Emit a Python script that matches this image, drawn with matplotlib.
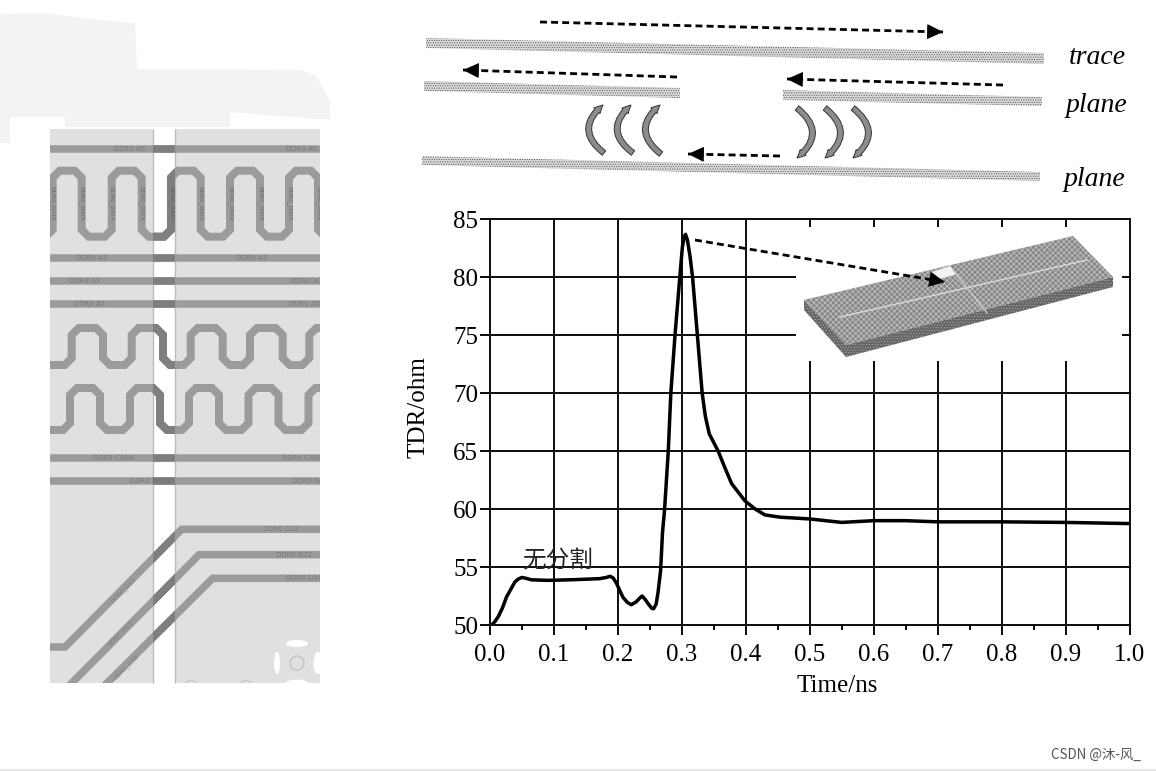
import matplotlib
matplotlib.use("Agg")
import matplotlib.pyplot as plt
from matplotlib.patches import Polygon, Rectangle, FancyArrowPatch, Circle, Ellipse

W, H = 1156, 771
SERIF = "Liberation Serif"
CJK = ["Noto Sans CJK SC", "DejaVu Sans"]
PX = 0.72  # points per pixel at dpi 100
plt.rcParams["hatch.linewidth"] = 0.45

# ------------------- chart data -------------------
time_ns = [0.0, 0.004, 0.008, 0.013, 0.02, 0.026, 0.033, 0.039, 0.044, 0.05, 0.055, 0.065, 0.09, 0.125, 0.15, 0.172,
           0.182, 0.188, 0.193, 0.198, 0.208, 0.215, 0.221, 0.229, 0.234, 0.238, 0.243, 0.248, 0.253, 0.256, 0.26,
           0.263, 0.267, 0.27, 0.273, 0.279, 0.283, 0.2895, 0.297, 0.301, 0.304, 0.306, 0.309, 0.313, 0.317, 0.3245,
           0.332, 0.337, 0.343, 0.357, 0.368, 0.378, 0.399, 0.415, 0.43, 0.454, 0.5, 0.525, 0.55, 0.6, 0.65, 0.7,
           0.8, 0.9, 1.0]
tdr_ohm = [50.0, 50.05, 50.3, 50.7, 51.5, 52.4, 53.1, 53.7, 53.95, 54.1, 54.05, 53.9, 53.85, 53.9, 53.95, 54.0,
           54.1, 54.2, 54.05, 53.6, 52.4, 51.95, 51.75, 52.0, 52.3, 52.5, 52.2, 51.8, 51.45, 51.4, 51.8,
           52.8, 54.7, 58.0, 59.8, 65.0, 70.0, 75.0, 80.0, 82.6, 83.5, 83.7, 83.2, 81.8, 80.0, 75.0,
           70.0, 68.0, 66.5, 65.0, 63.5, 62.2, 60.7, 60.0, 59.5, 59.3, 59.15, 59.0, 58.85, 59.0, 59.0, 58.9,
           58.9, 58.85, 58.75]
x_ticks = [0.0, 0.1, 0.2, 0.3, 0.4, 0.5, 0.6, 0.7, 0.8, 0.9, 1.0]
x_minor = [0.05, 0.15, 0.25, 0.35, 0.45, 0.55, 0.65, 0.75, 0.85, 0.95]
x_labels = ["0.0", "0.1", "0.2", "0.3", "0.4", "0.5", "0.6", "0.7", "0.8", "0.9", "1.0"]
y_ticks = [50, 55, 60, 65, 70, 75, 80, 85]
y_labels = ["50", "55", "60", "65", "70", "75", "80", "85"]
v_full = [0.1, 0.2, 0.3, 0.4]
v_short = [0.5, 0.6, 0.7, 0.8, 0.9]
h_full = [55, 60, 65, 70]
h_short = [75, 80]
x_title, y_title, note = "Time/ns", "TDR/ohm", "无分割"

# ------------------- illustration geometry (pixels) -------------------
smudge = [(0, 14), (45, 13), (100, 20), (135, 23), (137, 69), (300, 70), (315, 75), (330, 100), (330, 119),
          (318, 119), (230, 112), (230, 127), (65, 127), (65, 117), (10, 117), (10, 143), (0, 143)]
straight_y = [148.7, 258, 281, 304, 458, 481]
m1_x = [52.7, 81.7, 111.7, 141.7, 171, 200.7, 230, 260, 289, 318]
m2_x = [71.7, 103, 131.7, 163, 190.7, 222.7, 250, 282.7, 309.3, 340]
m3_x = [70, 100, 130, 160, 189, 219, 248.5, 278.5, 308.5, 338]
diag_a = [(40, 647), (65, 647), (181.7, 529.3), (330, 529.3)]
diag_b = [(60, 695), (199, 554.7), (330, 554.7)]
diag_c = [(95, 695), (212.7, 578.3), (330, 578.3)]
trace_labels = [("DDR0 A6", 130, 148.7), ("DDR0 A6", 302, 148.7), ("DDR0 A2", 92, 258), ("DDR0 A2", 252, 258),
                ("DDR0 A7", 85, 281), ("DDR0 A7", 307, 281), ("DDR0 A5", 90, 304), ("DDR0 A5", 305, 304),
                ("DDR0 CASN", 114, 458), ("DDR0 CASN", 303, 458), ("DDR0 RASN", 150, 481),
                ("DDR0 RASN", 312, 481), ("DDR0 D12", 281, 529.3), ("DDR0 D22", 294, 554.7),
                ("DDR0 D16", 304, 578.3)]
bars = [[(426, 38), (1044, 53), (1044, 64), (426, 48)],
        [(424, 81), (680, 88), (680, 98), (424, 91)],
        [(783, 90), (1042, 97), (1042, 106), (783, 100)],
        [(422, 156), (1040, 172), (1040, 181), (422, 165)]]
dashes = [((540, 22), (943, 32)), ((677, 77), (463, 70)), ((1003, 85), (787, 79)), ((780, 156), (688, 154)),
          ((695, 240), (945, 282))]
arcs_left = [((604, 153), (603, 105)), ((633, 153), (631, 105)), ((661, 154), (660, 105))]
arcs_right = [((797, 108), (797, 158)), ((825, 108), (825, 158)), ((853, 108), (853, 158))]
word_labels = [("trace", 1069, 57), ("plane", 1066, 105), ("plane", 1064, 179)]

fig = plt.figure(figsize=(W / 100, H / 100), dpi=100, facecolor="white")


def pixel_axes(z):
    a = fig.add_axes([0, 0, 1, 1], zorder=z, facecolor="none")
    a.set_xlim(0, W)
    a.set_ylim(H, 0)
    a.axis("off")
    return a


bg = pixel_axes(0)
fg = pixel_axes(2)

# ------------------- left panel -------------------
bg.add_patch(Polygon(smudge, closed=True, fc="#f3f3f3", ec="none"))
panels = [Rectangle((49.5, 129), 103.5, 554, fc="#e0e0e2", ec="none"),
          Rectangle((175, 129), 145, 554, fc="#e0e0e2", ec="none")]
for p in panels:
    bg.add_patch(p)
bg.vlines([153, 175], 129, 683, color="#bcbcbc", lw=1)
clip_all = Rectangle((49.5, 129), 270.5, 554, transform=bg.transData)
clip_gap = Rectangle((153, 129), 22, 554, transform=bg.transData)


def meander(xs, top, bottom, start_bottom=True, c=7):
    pts = [(xs[0] - 40, bottom if start_bottom else top)]
    at_bottom = start_bottom
    for x in xs:
        a, b = (bottom, top) if at_bottom else (top, bottom)
        s = -1 if at_bottom else 1
        pts += [(x - c, a), (x, a + s * c), (x, b - s * c), (x + c, b)]
        at_bottom = not at_bottom
    return pts


def trace(points, width=7.5):
    xs, ys = zip(*points)
    for col, clip in (("#9b9b9b", clip_all), ("#7f7f7f", clip_gap)):
        ln, = bg.plot(xs, ys, color=col, lw=width * PX, solid_joinstyle="miter", solid_capstyle="butt")
        ln.set_clip_path(clip)


for y in straight_y:
    trace([(40, y), (330, y)])
trace(meander(m1_x, 170.7, 236.7, True, 7), 8)
trace(meander(m2_x, 328, 365, True, 7), 8)
trace(meander(m3_x, 388, 430, True, 7), 8)
trace(diag_a)
trace(diag_b)
trace(diag_c)

for s, x, y in trace_labels:
    t = bg.text(x, y, s, fontsize=5, color="#707070", ha="center", va="center", alpha=0.8, clip_on=True)
    t.set_clip_path(clip_all)
for x in m1_x:
    t = bg.text(x, 203, "DDR0_DATA", fontsize=4.2, color="#5c5c5c", rotation=270, ha="center", va="center",
                alpha=0.8, clip_on=True)
    t.set_clip_path(clip_all)
for s, x, y in [("DDR0_D16", 123, 590), ("DDR0_D22", 120, 633), ("DDR0_D18", 126, 667)]:
    bg.text(x, y, s, fontsize=4.5, color="#808080", rotation=45, ha="center", va="center")

# via near the lower right corner of the panel
via = Circle((297, 663), 7, fc="none", ec="#bdbdbd", lw=0.8)
bg.add_patch(via)
for cx, cy, w, h in [(297, 643.5, 22, 7), (297, 683, 22, 7), (277, 663, 6, 22), (318, 663, 9, 22)]:
    e = Ellipse((cx, cy), w, h, fc="white", ec="none")
    bg.add_patch(e)
    e.set_clip_path(clip_all)
for cx in (191, 246):
    c = Circle((cx, 688), 7.5, fc="none", ec="#c4c4c4", lw=0.8)
    bg.add_patch(c)
    c.set_clip_path(clip_all)

# ------------------- top right sketch -------------------
for b in bars:
    bg.add_patch(Polygon(b, closed=True, fc="#dadada", ec="#555555", lw=0, hatch="......."))


def dashed_arrow(ax, p0, p1, head=13):
    ax.plot([p0[0], p1[0]], [p0[1], p1[1]], color="black", lw=2.0,
            dashes=(2.5, 1.5), dash_capstyle="butt")
    dx, dy = p1[0] - p0[0], p1[1] - p0[1]
    n = (dx * dx + dy * dy) ** 0.5
    q = (p1[0] - dx / n * head, p1[1] - dy / n * head)
    ax.add_patch(FancyArrowPatch(q, p1, arrowstyle="-|>,head_length=0.8,head_width=0.38", mutation_scale=13,
                                 fc="black", ec="black", lw=0.6, shrinkA=0, shrinkB=0))


for p0, p1 in dashes[:-1]:
    dashed_arrow(bg, p0, p1)
for p0, p1 in arcs_left + arcs_right:
    bg.add_patch(FancyArrowPatch(p0, p1, connectionstyle="arc3,rad=-0.62",
                                 arrowstyle="simple,head_length=0.6,head_width=0.6,tail_width=0.4",
                                 mutation_scale=10, fc="#8c8c8c", ec="#333333", lw=0.7, shrinkA=0, shrinkB=0))
for s, x, y in word_labels:
    bg.text(x, y, s, family=SERIF, style="italic", fontsize=20, color="black", ha="left", va="center")

# ------------------- chart -------------------
ax = fig.add_axes([489.8 / W, 1 - 625 / H, (1129.5 - 489.8) / W, (625 - 219.3) / H], zorder=1, facecolor="none")
ax.set_xlim(0, 1)
ax.set_ylim(50, 85)
lw = 2 * PX
ax.vlines(v_full, 50, 85, color="#111111", lw=lw)
ax.vlines(v_short, 50, 72.8, color="#111111", lw=lw)
ax.hlines(h_full, 0, 1, color="#111111", lw=lw)
ax.hlines(h_short, 0, 0.479, color="#111111", lw=lw)
ax.plot(time_ns, tdr_ohm, color="black", lw=3.5 * PX, solid_joinstyle="round", solid_capstyle="round")
for s in ax.spines.values():
    s.set_linewidth(lw)
    s.set_color("#111111")
ax.set_xticks(x_ticks)
ax.set_xticks(x_minor, minor=True)
ax.set_xticklabels(x_labels, family=SERIF, fontsize=18, color="black")
ax.set_yticks(y_ticks)
ax.set_yticklabels(y_labels, family=SERIF, fontsize=18, color="black")
ax.tick_params(axis="y", which="major", length=8 * PX * 1.2, width=lw, direction="out", pad=1.5, color="#111111")
ax.tick_params(axis="x", which="major", length=8 * PX * 1.2, width=lw, direction="out", pad=6.5, color="#111111")
ax.tick_params(axis="x", which="minor", length=5 * PX, width=lw, direction="out", color="#111111")
ax.set_xlabel(x_title, family=SERIF, fontsize=18, color="black")
ax.set_ylabel(y_title, family=SERIF, fontsize=18, color="black")
ax.xaxis.set_label_coords(0.543, -0.123)
ax.yaxis.set_label_coords(-0.094, 0.537)
for v in v_short:
    ax.vlines(v, 84.3, 85, color="#111111", lw=lw)
for v in h_short:
    ax.hlines(v, 0.988, 1, color="#111111", lw=lw)
ax.text(0.051, 55.5, note, family=CJK, fontsize=17, color="#222222", ha="left", va="center")

# inset board
board_top = [(804, 300), (1073, 236), (1113, 277), (846, 345)]
board_side = [(804, 300), (846, 345), (1113, 277), (1113, 287), (846, 357), (804, 310)]
fg.add_patch(Polygon(board_side, closed=True, fc="#666666", ec="#a8a8a8", lw=0, hatch="......"))
fg.add_patch(Polygon(board_top, closed=True, fc="#888888", ec="#cccccc", lw=0, hatch="xxxxxx"))
fg.plot([840, 1087], [317, 260], color="#dcdcdc", lw=1)
fg.plot([953, 987], [270, 313], color="#c8c8c8", lw=1)
fg.add_patch(Polygon([(932, 272), (950, 266), (957, 274), (940, 279)], closed=True, fc="#f2f2f2", ec="none"))
dashed_arrow(fg, *dashes[-1])

# ------------------- footer -------------------
fg.text(1051, 755, "CSDN @沐-风_", family=CJK, fontsize=9.6, color="#555555", ha="left", va="center")
fg.hlines(770, 0, W, color="#e8e8e8", lw=1.5)

fig.savefig("out.png", dpi=100, facecolor="white")
